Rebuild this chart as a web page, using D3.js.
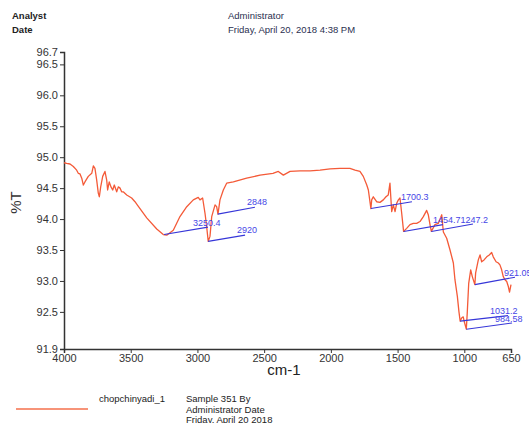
<!DOCTYPE html>
<html>
<head>
<meta charset="utf-8">
<script src="https://cdn.jsdelivr.net/npm/d3@7"></script>
<style>
  body { margin: 0; background: #fff; }
  svg { display: block; font-family: "Liberation Sans", Arial, sans-serif; }
</style>
</head>
<body>
<div id="chart"></div>
<script>
// spectrum (cm-1, %T)
const wavenumbers = [4000, 3980, 3955, 3930, 3905, 3893, 3880, 3867, 3855, 3843, 3818, 3792, 3780, 3768, 3755, 3743, 3735, 3725, 3710, 3693,
  3680, 3673, 3661, 3648, 3635, 3623, 3605, 3593, 3580, 3568, 3556, 3530, 3493, 3468, 3451, 3380, 3305, 3256, 3230, 3181,
  3131, 3080, 3031, 2994, 2981, 2961, 2943, 2931, 2919, 2906, 2893, 2868, 2856, 2846, 2831, 2806, 2781, 2731, 2631, 2531,
  2434, 2394, 2356, 2306, 2231, 2156, 2081, 2006, 1932, 1857, 1819, 1782, 1757, 1731, 1719, 1700, 1694, 1682, 1657, 1632,
  1607, 1587, 1570, 1557, 1551, 1544, 1532, 1519, 1506, 1494, 1482, 1469, 1455, 1432, 1407, 1382, 1357, 1332, 1307, 1282,
  1270, 1257, 1247, 1220, 1195, 1169, 1157, 1132, 1107, 1082, 1070, 1052, 1040, 1031, 1020, 1008, 1000, 985, 978, 967,
  952, 940, 921, 915, 895, 882, 870, 852, 832, 813, 795, 783, 762, 745, 733, 720, 708, 695, 682, 670,
  661, 650];
const transmittance = [94.91, 94.90, 94.89, 94.85, 94.79, 94.74, 94.73, 94.66, 94.55, 94.60, 94.69, 94.74, 94.86, 94.82, 94.63, 94.42, 94.36, 94.52, 94.69, 94.77,
  94.63, 94.47, 94.60, 94.52, 94.47, 94.55, 94.44, 94.52, 94.50, 94.44, 94.44, 94.39, 94.34, 94.28, 94.23, 94.02, 93.84, 93.75, 93.74, 93.82,
  94.04, 94.20, 94.31, 94.35, 94.31, 94.34, 94.09, 93.88, 93.64, 93.72, 94.04, 94.23, 94.20, 94.08, 94.31, 94.47, 94.58, 94.60, 94.66, 94.71,
  94.74, 94.77, 94.71, 94.77, 94.78, 94.78, 94.79, 94.81, 94.82, 94.82, 94.79, 94.77, 94.69, 94.55, 94.47, 94.17, 94.31, 94.36, 94.28, 94.27,
  94.31, 94.36, 94.39, 94.58, 94.36, 94.12, 94.23, 94.12, 94.26, 94.31, 94.34, 94.09, 93.80, 93.85, 93.91, 93.93, 93.93, 93.96, 94.04, 94.14,
  94.07, 93.91, 93.80, 93.91, 93.93, 94.07, 93.79, 93.69, 93.50, 93.29, 93.02, 92.75, 92.50, 92.35, 92.40, 92.42, 92.34, 92.22, 92.48, 92.96,
  93.18, 93.07, 92.94, 93.13, 93.34, 93.42, 93.31, 93.34, 93.39, 93.42, 93.46, 93.39, 93.31, 93.29, 93.26, 93.18, 93.07, 93.02, 92.99, 92.91,
  92.82, 92.94];

// y ticks and x ticks
const yTicks = [96.7, 96.5, 96.0, 95.5, 95.0, 94.5, 94.0, 93.5, 93.0, 92.5, 91.9];
const xTicks = [4000, 3500, 3000, 2500, 2000, 1500, 1000, 650];

// peak labels: peak point, end of the leader line, label spot
const peakLabels = ["3250.4", "2920", "2848", "1700.3", "1454.7", "1247.2", "921.05", "1031.2", "984.58"];
const peakW = [3250.4, 2920, 2848, 1700.3, 1454.7, 1247.2, 921.05, 1031.2, 984.58];
const peakT = [93.75, 93.64, 94.08, 94.17, 93.80, 93.80, 92.94, 92.35, 92.22];
const lineEndW = [2921, 2643, 2569, 1392, 1160, 935, 620, 672, 642];
const lineEndT = [93.87, 93.74, 94.19, 94.28, 93.91, 93.92, 93.06, 92.44, 92.32];
const labelW = [3033, 2703, 2628, 1474, 1235, 1028, 702, 807, 770];
const labelT = [93.89, 93.78, 94.23, 94.31, 93.94, 93.94, 93.08, 92.47, 92.34];

const width = 529, height = 423;
const margin = { top: 52, right: 18, bottom: 74, left: 64 };

const svg = d3.select("#chart").append("svg")
  .attr("width", width)
  .attr("height", height);

const x = d3.scaleLinear().domain([4000, 650]).range([margin.left, width - margin.right]);
const y = d3.scaleLinear().domain([91.9, 96.7]).range([height - margin.bottom, margin.top]);

// header
const header = svg.append("g").style("font-size", "9.5px");
header.append("text").attr("x", 12).attr("y", 19).attr("font-weight", "bold").attr("fill", "#222").text("Analyst");
header.append("text").attr("x", 12).attr("y", 33).attr("font-weight", "bold").attr("fill", "#222").text("Date");
header.append("text").attr("x", 228).attr("y", 19).attr("fill", "#2b3050").text("Administrator");
header.append("text").attr("x", 228).attr("y", 33).attr("fill", "#2b3050").text("Friday, April 20, 2018 4:38 PM");

// axes
const yAxis = svg.append("g")
  .attr("transform", `translate(${margin.left},0)`)
  .call(d3.axisLeft(y).tickValues(yTicks).tickFormat(d3.format(".1f")).tickSize(4).tickPadding(2));

const xAxis = svg.append("g")
  .attr("transform", `translate(0,${height - margin.bottom})`)
  .call(d3.axisBottom(x).tickValues(xTicks).tickFormat(d3.format("d")).tickSize(4).tickPadding(1));

[yAxis, xAxis].forEach((g) => {
  g.select(".domain").attr("stroke", "#333").attr("stroke-width", 1.5);
  g.selectAll(".tick line").attr("stroke", "#333");
  g.selectAll(".tick text").attr("fill", "#333").style("font-size", "11px").style("font-family", "\"Liberation Sans\", Arial, sans-serif");
});

// axis titles
svg.append("text")
  .attr("transform", `translate(21,${(margin.top + height - margin.bottom) / 2 + 2}) rotate(-90)`)
  .attr("text-anchor", "middle")
  .attr("fill", "#333")
  .style("font-size", "15px")
  .text("%T");

svg.append("text")
  .attr("x", 284)
  .attr("y", 375)
  .attr("text-anchor", "middle")
  .attr("fill", "#222")
  .style("font-size", "15px")
  .text("cm-1");

// spectrum line
const line = d3.line()
  .x((d) => x(d[0]))
  .y((d) => y(d[1]));

svg.append("path")
  .datum(wavenumbers.map((w, i) => [w, transmittance[i]]))
  .attr("d", line)
  .attr("fill", "none")
  .attr("stroke", "#f45a38")
  .attr("stroke-width", 1.3)
  .attr("stroke-linejoin", "round");

// peak annotations
const peaks = peakLabels.map((label, i) => ({
  label, w: peakW[i], t: peakT[i], w2: lineEndW[i], t2: lineEndT[i], lw: labelW[i], lt: labelT[i],
}));

svg.append("g")
  .selectAll("line")
  .data(peaks)
  .join("line")
  .attr("x1", (d) => x(d.w))
  .attr("y1", (d) => y(d.t))
  .attr("x2", (d) => x(d.w2))
  .attr("y2", (d) => y(d.t2))
  .attr("stroke", "#3636d8")
  .attr("stroke-width", 1.1);

svg.append("g")
  .selectAll("text")
  .data(peaks)
  .join("text")
  .attr("x", (d) => x(d.lw))
  .attr("y", (d) => y(d.lt))
  .attr("fill", "#4646e6")
  .style("font-size", "9px")
  .text((d) => d.label);

// legend
const legend = svg.append("g").style("font-size", "9.5px").attr("fill", "#222");
legend.append("line")
  .attr("x1", 16).attr("x2", 88)
  .attr("y1", 409).attr("y2", 409)
  .attr("stroke", "#f4704c")
  .attr("stroke-width", 1.5);
legend.append("text").attr("x", 99).attr("y", 402).text("chopchinyadi_1");
legend.append("text").attr("x", 186).attr("y", 402).text("Sample 351 By");
legend.append("text").attr("x", 186).attr("y", 413).text("Administrator Date");
legend.append("text").attr("x", 186).attr("y", 423).text("Friday, April 20 2018");
</script>
</body>
</html>
